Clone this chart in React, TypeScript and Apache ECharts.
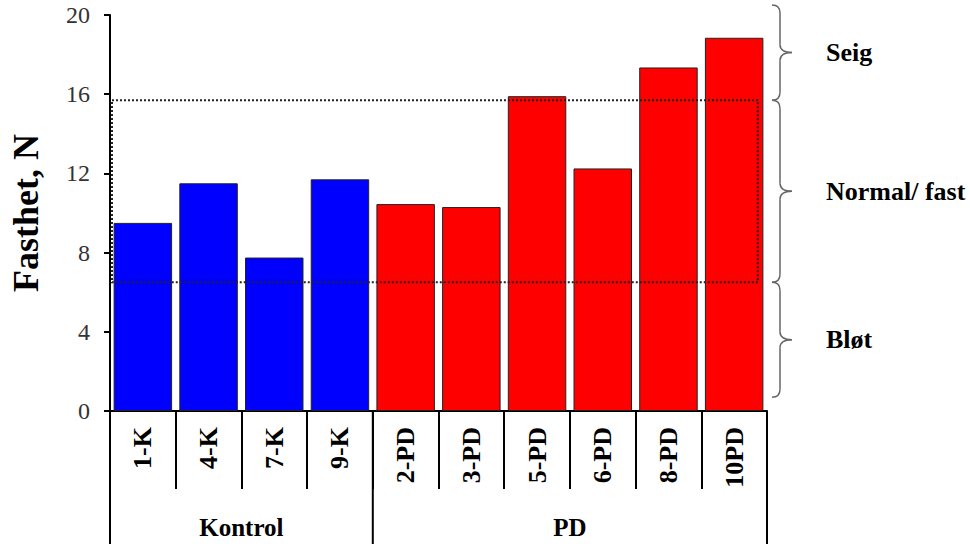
import React, { useEffect, useRef } from "react";
import * as echarts from "echarts";

const categories = ["1-K", "4-K", "7-K", "9-K", "2-PD", "3-PD", "5-PD", "6-PD", "8-PD", "10PD"];
const values = [9.5, 11.5, 7.75, 11.7, 10.45, 10.3, 15.9, 12.25, 17.35, 18.85];
const groupNames = ["Kontrol", "PD"];
const groupSizes = [4, 6];
const groupColors = ["#0000FF", "#FF0000"];
const thresholds = [15.7, 6.5];
const braceBounds = [20.5, 15.7, 6.5, 0.7];
const braceLabels = ["Seig", "Normal/ fast", "Bløt"];
const yMin = 0;
const yMax = 20;
const yInterval = 4;

const FONT = "Liberation Serif";

export default function App() {
  const ref = useRef<HTMLDivElement>(null);

  useEffect(() => {
    if (!ref.current) return;
    const chart = echarts.init(ref.current, null, { renderer: "svg" });
    const groupOf: number[] = [];
    groupSizes.forEach((n, g) => {
      for (let k = 0; k < n; k++) groupOf.push(g);
    });

    chart.setOption({
      animation: false,
      textStyle: { fontFamily: FONT },
      grid: { left: 108, right: 203, top: 15, bottom: 133 },
      xAxis: {
        type: "category",
        data: categories,
        axisLine: { lineStyle: { color: "#000", width: 2 } },
        axisTick: { show: true, interval: 0, length: 78, lineStyle: { color: "#000", width: 2 } },
        axisLabel: {
          interval: 0,
          rotate: 90,
          margin: 16,
          fontFamily: FONT,
          fontWeight: "bold",
          fontSize: 26,
          color: "#000",
        },
      },
      yAxis: {
        type: "value",
        min: yMin,
        max: yMax,
        interval: yInterval,
        axisLine: { show: true, lineStyle: { color: "#000", width: 2 } },
        axisTick: { show: true, length: 6, lineStyle: { color: "#000", width: 2 } },
        splitLine: { show: false },
        axisLabel: { fontFamily: FONT, fontSize: 24, color: "#333", margin: 20 },
        name: "Fasthet, N",
        nameLocation: "middle",
        nameGap: 66,
        nameTextStyle: { fontFamily: FONT, fontWeight: "bold", fontSize: 36, color: "#000" },
      },
      series: [
        {
          type: "bar",
          barCategoryGap: "11%",
          data: values.map((v, i) => ({
            value: v,
            itemStyle: { color: groupColors[groupOf[i]] },
          })),
          itemStyle: { borderColor: "#222", borderWidth: 1 },
        },
      ],
    });

    const px = (i: number, v: number) => chart.convertToPixel({ gridIndex: 0 }, [i, v]) as number[];
    const c0 = px(0, 0);
    const c1 = px(1, 0);
    const bw = c1[0] - c0[0];
    const boundary = (i: number) => c0[0] - bw / 2 + i * bw;
    const y0 = c0[1];
    const py = (v: number) => px(0, v)[1];
    const H = 544;
    const gridRight = boundary(categories.length);

    const graphics: any[] = [];
    let start = 0;
    const edges = [0];
    groupSizes.forEach((n, g) => {
      const end = start + n;
      edges.push(end);
      graphics.push({
        type: "text",
        z: 100,
        x: (boundary(start) + boundary(end)) / 2,
        y: y0 + 116,
        style: {
          text: groupNames[g],
          fontFamily: FONT,
          fontWeight: "bold",
          fontSize: 25,
          fill: "#000",
          align: "center",
          verticalAlign: "middle",
        },
      });
      start = end;
    });
    edges.forEach((e) => {
      graphics.push({
        type: "line",
        z: 100,
        shape: { x1: boundary(e), y1: y0, x2: boundary(e), y2: H },
        style: { stroke: "#000", lineWidth: 2 },
      });
    });

    const rx = boundary(0) + 2;
    const rRight = px(categories.length - 1, 0)[0] + bw * 0.36;
    const ry = py(thresholds[0]);
    graphics.push({
      type: "rect",
      z: 100,
      shape: { x: rx, y: ry, width: rRight - rx, height: py(thresholds[1]) - ry },
      style: { fill: "none", stroke: "#222", lineWidth: 2, lineDash: [2, 2] },
    });

    const x0 = gridRight + 5;
    const x1 = gridRight + 13;
    const x2 = gridRight + 25;
    const r = 8;
    const braceStyle = { stroke: "#666", lineWidth: 1.5, fill: "none" };
    for (let b = 0; b < braceLabels.length; b++) {
      const yt = py(braceBounds[b]);
      const yb = py(braceBounds[b + 1]);
      const ym = (yt + yb) / 2;
      const pieces: any[] = [
        { type: "bezierCurve", shape: { x1: x0, y1: yt, x2: x1, y2: yt + r, cpx1: x1, cpy1: yt } },
        { type: "line", shape: { x1: x1, y1: yt + r, x2: x1, y2: ym - r } },
        { type: "bezierCurve", shape: { x1: x1, y1: ym - r, x2: x2, y2: ym, cpx1: x1, cpy1: ym } },
        { type: "bezierCurve", shape: { x1: x2, y1: ym, x2: x1, y2: ym + r, cpx1: x1, cpy1: ym } },
        { type: "line", shape: { x1: x1, y1: ym + r, x2: x1, y2: yb - r } },
        { type: "bezierCurve", shape: { x1: x1, y1: yb - r, x2: x0, y2: yb, cpx1: x1, cpy1: yb } },
      ];
      pieces.forEach((p) => graphics.push({ ...p, z: 100, style: braceStyle }));
      graphics.push({
        type: "text",
        z: 100,
        x: gridRight + 59,
        y: ym,
        style: {
          text: braceLabels[b],
          fontFamily: FONT,
          fontWeight: "bold",
          fontSize: 26,
          fill: "#000",
          align: "left",
          verticalAlign: "middle",
        },
      });
    }

    chart.setOption({ graphic: graphics });

    return () => chart.dispose();
  }, []);

  return (
    <div
      ref={ref}
      style={{ position: "absolute", left: 0, top: 0, width: 970, height: 544, background: "#fff" }}
    />
  );
}
